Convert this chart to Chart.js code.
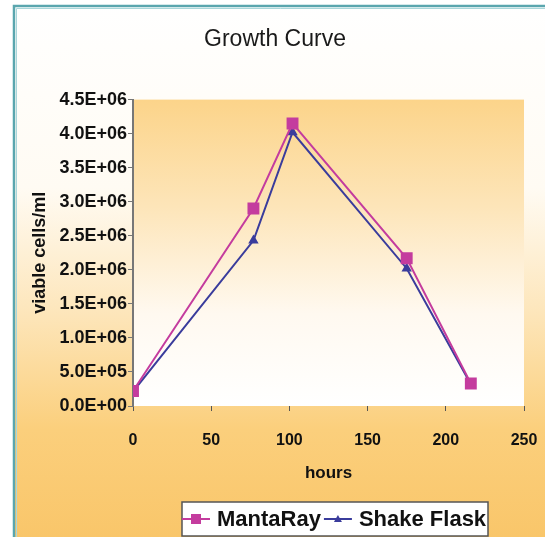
<!DOCTYPE html>
<html>
<head>
<meta charset="utf-8">
<script src="https://cdn.jsdelivr.net/npm/chart.js@4/dist/chart.umd.min.js"></script>
<style>
  html, body { margin: 0; padding: 0; background: #ffffff; }
  #wrap { width: 545px; height: 537px; position: relative; }
</style>
</head>
<body>
<div id="wrap"><canvas id="c" width="545" height="537"></canvas></div>
<script>
// Sampling times (hours) and viable cell counts (cells/ml)
const hours = [0, 77, 102, 175, 216];
const mantaRay = [2.2e5, 2.9e6, 4.15e6, 2.17e6, 3.3e5];
const shakeFlask = [2.1e5, 2.43e6, 4.02e6, 2.02e6, 3.2e5];
const seriesNames = ['MantaRay', 'Shake Flask'];
const xTicks = [0, 50, 100, 150, 200, 250];
const yTicks = [0, 5e5, 1e6, 1.5e6, 2e6, 2.5e6, 3e6, 3.5e6, 4e6, 4.5e6];

const MAGENTA = '#c43c9e';
const BLUE = '#3a3c9c';

function toPoints(xs, ys) { return xs.map((x, i) => ({ x: x, y: ys[i] })); }

function sci(v) {
  if (v === 0) return '0.0E+00';
  const e = Math.floor(Math.log10(v));
  const m = v / Math.pow(10, e);
  return m.toFixed(1) + 'E+' + String(e).padStart(2, '0');
}

// Page frame, outer gradient and plot-area gradient
const backdrop = {
  id: 'backdrop',
  beforeDraw(chart) {
    const ctx = chart.ctx;
    const a = chart.chartArea;
    ctx.save();
    const g = ctx.createLinearGradient(0, 0, 0, chart.height);
    g.addColorStop(0, '#ffffff');
    g.addColorStop(0.35, '#fffbf3');
    g.addColorStop(0.58, '#fde6bb');
    g.addColorStop(0.8, '#fbcf7c');
    g.addColorStop(1, '#f9c66a');
    ctx.fillStyle = g;
    ctx.fillRect(0, 0, chart.width, chart.height);
    ctx.fillStyle = '#ffffff';
    ctx.fillRect(0, 0, 13, chart.height);
    ctx.fillRect(0, 0, chart.width, 5);
    // frame
    ctx.strokeStyle = '#5aa6ae';
    ctx.lineWidth = 2.5;
    ctx.beginPath();
    ctx.moveTo(14, chart.height);
    ctx.lineTo(14, 6);
    ctx.lineTo(chart.width, 6);
    ctx.stroke();
    ctx.strokeStyle = '#a9d6da';
    ctx.lineWidth = 1;
    ctx.beginPath();
    ctx.moveTo(16.5, chart.height);
    ctx.lineTo(16.5, 8.5);
    ctx.lineTo(chart.width, 8.5);
    ctx.stroke();
    // plot area
    const pg = ctx.createLinearGradient(0, a.top, 0, a.bottom);
    pg.addColorStop(0, '#fcd48a');
    pg.addColorStop(0.35, '#fde5b9');
    pg.addColorStop(0.7, '#fff9f0');
    pg.addColorStop(1, '#ffffff');
    ctx.fillStyle = pg;
    ctx.fillRect(a.left, a.top, a.right - a.left, a.bottom - a.top);
    ctx.restore();
  }
};

// Boxed legend with line-and-marker samples
const boxLegend = {
  id: 'boxLegend',
  afterDraw(chart) {
    const ctx = chart.ctx;
    ctx.save();
    const bx = 182, by = 502, bw = 306, bh = 34;
    ctx.fillStyle = '#ffffff';
    ctx.fillRect(bx, by, bw, bh);
    ctx.strokeStyle = '#555555';
    ctx.lineWidth = 1.5;
    ctx.strokeRect(bx, by, bw, bh);
    const cy = by + bh / 2;
    ctx.font = 'bold 22px "Liberation Sans", Arial, sans-serif';
    ctx.textBaseline = 'middle';
    ctx.textAlign = 'left';
    let x = bx;
    chart.data.datasets.forEach((ds) => {
      ctx.strokeStyle = ds.borderColor;
      ctx.lineWidth = 2;
      ctx.beginPath();
      ctx.moveTo(x, cy);
      ctx.lineTo(x + 28, cy);
      ctx.stroke();
      ctx.fillStyle = ds.pointBackgroundColor;
      if (ds.pointStyle === 'rect') {
        ctx.fillRect(x + 14 - 5, cy - 5, 10, 10);
      } else {
        ctx.beginPath();
        ctx.moveTo(x + 14, cy - 4);
        ctx.lineTo(x + 18, cy + 3);
        ctx.lineTo(x + 10, cy + 3);
        ctx.closePath();
        ctx.fill();
      }
      ctx.fillStyle = '#111111';
      ctx.fillText(ds.label, x + 35, cy + 1);
      x += 35 + ctx.measureText(ds.label).width + 3;
    });
    ctx.restore();
  }
};

new Chart(document.getElementById('c'), {
  type: 'line',
  data: {
    datasets: [
      {
        label: seriesNames[0],
        data: toPoints(hours, mantaRay),
        borderColor: MAGENTA,
        backgroundColor: MAGENTA,
        pointBackgroundColor: MAGENTA,
        pointBorderColor: MAGENTA,
        pointStyle: 'rect',
        pointRadius: 7,
        borderWidth: 2,
        tension: 0
      },
      {
        label: seriesNames[1],
        data: toPoints(hours, shakeFlask),
        borderColor: BLUE,
        backgroundColor: BLUE,
        pointBackgroundColor: BLUE,
        pointBorderColor: BLUE,
        pointStyle: 'triangle',
        pointRadius: 4,
        borderWidth: 2,
        tension: 0
      }
    ]
  },
  options: {
    responsive: false,
    animation: false,
    layout: { padding: { left: 15, right: 10, top: 0, bottom: 47 } },
    plugins: {
      legend: { display: false },
      tooltip: { enabled: false },
      title: {
        display: true,
        text: 'Growth Curve',
        color: '#1a1a1a',
        font: { family: '"Liberation Sans", Arial, sans-serif', size: 23, weight: 'normal' },
        padding: { top: 26, bottom: 46 }
      }
    },
    scales: {
      x: {
        type: 'linear',
        min: 0,
        max: 250,
        afterBuildTicks(s) { s.ticks = xTicks.map(v => ({ value: v })); },
        afterFit(s) { s.height = 84; s.paddingLeft = 0; s.paddingRight = 21; },
        border: { display: false },
        grid: { drawOnChartArea: false, drawTicks: true, tickLength: 5, color: '#555555' },
        ticks: {
          color: '#111111',
          padding: 20,
          font: { family: '"Liberation Sans", Arial, sans-serif', size: 16, weight: 'bold' },
          maxRotation: 0
        },
        title: {
          display: true,
          text: 'hours',
          color: '#111111',
          font: { family: '"Liberation Sans", Arial, sans-serif', size: 17, weight: 'bold' },
          padding: { top: 0, bottom: 6 }
        }
      },
      y: {
        type: 'linear',
        min: 0,
        max: 4.5e6,
        afterBuildTicks(s) { s.ticks = yTicks.map(v => ({ value: v })); },
        afterFit(s) { s.width = 118; },
        border: { display: true, color: '#777777', width: 2 },
        grid: { drawOnChartArea: false, drawTicks: true, tickLength: 5, color: '#777777' },
        ticks: {
          color: '#111111',
          padding: 1,
          font: { family: '"Liberation Sans", Arial, sans-serif', size: 18, weight: 'bold' },
          callback: (v) => sci(v)
        },
        title: {
          display: true,
          text: 'viable cells/ml',
          color: '#111111',
          font: { family: '"Liberation Sans", Arial, sans-serif', size: 18, weight: 'bold' },
          padding: { top: 14, bottom: 0 }
        }
      }
    }
  },
  plugins: [backdrop, boxLegend]
});
</script>
</body>
</html>
